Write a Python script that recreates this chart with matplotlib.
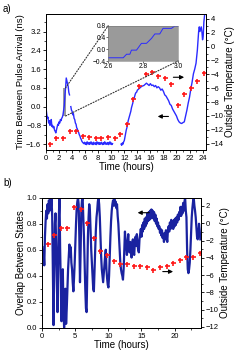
import numpy as np
import matplotlib
matplotlib.use("Agg")
import matplotlib.pyplot as plt
from matplotlib.patches import Rectangle, ConnectionPatch

plt.rcParams['font.family'] = ['Liberation Sans', 'DejaVu Sans']

# ---------- panel a data ----------
nan = np.nan
a_t = [0.0, 0.1, 0.2, 0.3, 0.4, 0.5, 0.6, 0.7, 0.8, 0.9, 1.0, 1.1, 1.2, 1.3, 1.4, 1.5,
       1.6, 1.7, 1.8, 1.9, 2.0, 2.1, 2.2, 2.3, 2.4, 2.5, 2.6, 2.7, 2.8, 2.9, 3.0, 3.1,
       3.2, 3.3, 3.4, 3.5, 3.6, 3.7,
       3.8, 3.9, 4.0, 4.1, 4.2, 4.3, 4.4, 4.5, 4.6, 4.7, 4.8, 4.9, 5.0, 5.1, 5.2, 5.3,
       5.4, 5.5, 5.6, 5.7, 5.8, 5.9, 6.0, 6.1, 6.2, 6.3, 6.4, 6.5, 6.6, 6.7, 6.8, 6.9,
       7.0, 7.1, 7.2, 7.3, 7.4, 7.5, 7.6, 7.7, 7.8, 7.9, 8.0, 8.1, 8.2, 8.3, 8.4, 8.5,
       8.6, 8.7, 8.8, 8.9, 9.0, 9.1, 9.2, 9.3, 9.4, 9.5, 9.6, 9.7, 9.8, 9.9, 10.0, 10.1,
       10.2, 10.3,
       11.5, 11.6, 11.7, 11.8, 11.9, 12.0, 12.1, 12.2, 12.3, 12.4, 12.5, 12.6, 12.7,
       12.8, 12.9, 13.0, 13.1, 13.2, 13.3, 13.4, 13.5, 13.6, 13.7, 13.8, 13.9, 14.0,
       14.2, 14.4, 14.6, 14.8, 15.0, 15.2, 15.4, 15.6, 15.8, 16.0, 16.2, 16.4, 16.6,
       16.8, 17.0, 17.2, 17.4, 17.6, 17.8, 18.0, 18.2, 18.4, 18.6, 18.8, 19.0, 19.2,
       19.4, 19.6, 19.8, 20.0, 20.2, 20.4, 20.6, 20.8, 21.0, 21.2, 21.4, 21.6, 21.8,
       22.0, 22.2, 22.4, 22.6, 22.8, 23.0, 23.2, 23.4, 23.5, 23.6, 23.8, 23.9, 24.0,
       24.1, 24.2, 24.35]
a_ns = [-0.05, -0.3, -0.5, -0.45, -0.7, -0.6, -0.8, -0.75, -0.55, -0.85, -0.8, -0.9,
        -0.85, -1.0, -1.05, -1.12, -1.0, -0.9, -0.75, -0.8, -0.65, -0.7, -0.55, -0.6,
        -0.5, -0.45, -0.35, -0.15, 0.05, 0.5, 0.8, 1.22, 1.1, 1.0, 0.85, 0.6, 0.5, nan,
        0.0, -0.15, -0.2, -0.35, -0.3, -0.5, -0.55, -0.7, -0.75, -0.9, -0.95, -1.05,
        -1.1, -1.2, -1.25, -1.35, -1.4, -1.48, -1.52, -1.55, -1.58, -1.52, -1.6, -1.55,
        -1.62, -1.5, -1.58, -1.6, -1.53, -1.61, -1.56, -1.5, -1.6, -1.55, -1.62, -1.52,
        -1.58, -1.6, -1.54, -1.62, -1.5, -1.57, -1.6, -1.53, -1.61, -1.55, -1.6, -1.52,
        -1.58, -1.62, -1.54, -1.6, -1.5, -1.58, -1.61, -1.55, -1.6, -1.53, -1.62, -1.57,
        -1.5, -1.6, -1.55, -1.62, -1.58, nan,
        -1.6, -1.65, -1.55, -1.6, -1.5, -1.45, -1.3, -1.15, -1.0, -0.9, -0.75, -0.6,
        -0.5, -0.4, -0.3, -0.2, -0.05, 0.05, 0.15, 0.3, 0.35, 0.45, 0.55, 0.6, 0.62,
        0.7, 0.75, 0.8, 0.85, 0.88, 0.9, 0.95, 1.0, 0.95, 0.9, 0.98, 0.9, 0.92, 0.85,
        0.9, 0.8, 0.85, 0.8, 0.7, 0.75, 0.65, 0.5, 0.45, 0.35, 0.25, 0.1, 0.05, -0.1,
        -0.2, -0.3, -0.4, -0.55, -0.65, -0.7, -0.72, -0.68, -0.65, -0.4, -0.15, 0.15,
        0.4, 0.75, 1.05, 1.4, 1.6, 1.85, 2.4, 3.2, 3.4, 3.2, 3.4, 3.2, 2.85, 3.0, 3.6,
        4.0]

a_temp_t = [0.6, 1.6, 2.6, 3.6, 4.6, 5.6, 6.6, 7.6, 8.5, 9.5, 10.5, 11.4, 12.4, 13.4,
            14.3, 15.3, 16.3, 17.2, 18.2, 19.2, 20.2, 21.2, 22.2, 23.2, 24.2]
a_temp = [-14.0, -13.2, -13.2, -12.2, -12.2, -12.9, -13.0, -13.2, -13.2, -13.0, -13.2,
          -12.6, -11.1, -7.6, -5.7, -3.9, -3.6, -4.2, -4.5, -5.4, -8.4, -6.8, -5.9,
          -4.95, -3.8]

inset_t = [2.6, 2.686, 2.705, 2.724, 2.733, 2.762, 2.79, 2.819, 2.848, 2.867, 2.895,
           2.914, 2.962, 2.981, 3.0]
inset_ns = [-0.29, -0.29, -0.17, -0.17, -0.03, -0.03, 0.2, 0.2, 0.37, 0.52, 0.52,
            0.71, 0.71, 0.79, 0.79]

# ---------- panel b data ----------
b_t = [round(0.1 * i, 1) for i in range(240)]
b_overlap = [
    0.62, 0.5, 0.58, 0.48, 0.7, 0.82, 0.9, 0.84, 0.95, 0.88,
    0.98, 0.9, 1.0, 0.93, 0.99, 0.85, 0.4, 0.02, 0.45, 0.8,
    0.88, 0.6, 0.35, 0.12, 0.5, 0.85, 1.0, 0.6, 0.3, 0.05,
    0.35, 0.45, 0.15, 0.0, 0.2, 0.3, 0.03, 0.15, 0.3, 0.45,
    0.55, 0.64, 0.55, 0.62, 0.5, 0.45, 0.35, 0.28, 0.38, 0.5,
    0.65, 0.8, 0.92, 0.97, 1.0, 0.95, 0.7, 0.35, 0.6, 0.9,
    0.98, 1.0, 0.85, 0.7, 0.5, 0.3, 0.15, 0.12, 0.4, 0.7,
    0.85, 0.95, 0.9, 0.75, 0.6, 0.5, 0.4, 0.3, 0.28, 0.45,
    0.6, 0.75, 0.85, 0.9, 0.97, 1.0, 0.95, 0.85, 0.7, 0.55,
    0.45, 0.4, 0.35, 0.42, 0.5, 0.55, 0.6, 0.45, 0.38, 0.33,
    0.31, 0.4, 0.55, 0.7, 0.82, 0.9, 0.95, 0.98, 0.94, 0.99,
    0.94, 0.97, 0.92, 0.95, 0.86, 0.8, 0.7, 0.6, 0.5, 0.45,
    0.42, 0.4, 0.37, 0.45, 0.6, 0.74, 0.66, 0.62, 0.56, 0.66,
    0.72, 0.6, 0.58, 0.66, 0.58, 0.54, 0.65, 0.68, 0.58, 0.56,
    0.66, 0.7, 0.63, 0.72, 0.64, 0.6, 0.58, 0.68, 0.72, 0.76,
    0.7, 0.79, 0.74, 0.81, 0.76, 0.84, 0.78, 0.85, 0.8, 0.88,
    0.82, 0.89, 0.83, 0.9, 0.84, 0.91, 0.85, 0.9, 0.84, 0.89,
    0.82, 0.87, 0.8, 0.84, 0.78, 0.81, 0.76, 0.78, 0.73, 0.76,
    0.71, 0.75, 0.69, 0.72, 0.66, 0.73, 0.68, 0.75, 0.7, 0.66,
    0.75, 0.78, 0.74, 0.81, 0.76, 0.83, 0.78, 0.8, 0.76, 0.83,
    0.78, 0.84, 0.79, 0.85, 0.81, 0.87, 0.83, 0.89, 0.86, 0.93,
    0.86, 0.93, 0.88, 0.96, 0.9, 0.97, 1.0, 0.9, 0.85, 0.6,
    0.45, 0.42, 0.45, 0.5, 0.6, 0.72, 0.85, 0.92, 0.97, 1.0,
    0.94, 0.9, 0.85, 0.78, 0.7, 0.68, 0.72, 0.8, 0.75, 0.68]

b_temp_t = [0.8, 1.8, 2.8, 3.8, 4.8, 5.8, 6.8, 7.8, 8.8, 9.8, 10.8, 11.8, 12.8, 13.8,
            14.8, 15.8, 16.8, 17.8, 18.8, 19.8, 20.8, 21.8, 22.8, 23.8]
b_temp = [-2.35, -1.4, -0.5, -0.6, 1.85, 1.7, 0.07, -1.7, -3.25, -3.7, -4.4, -4.75,
          -4.7, -4.97, -4.97, -5.1, -5.4, -5.05, -5.0, -4.55, -4.3, -3.9, -3.9, -3.4]

blue_a = '#2b2bff'
blue_b = '#1a22a0'
red = '#ff1a1a'
gray = '#9a9a9a'
fs_tick = 5.5
fs_lab = 7


def style(ax):
    ax.tick_params(which='major', direction='out', length=2.5, width=0.6,
                   labelsize=fs_tick, pad=1)
    ax.tick_params(which='minor', direction='out', length=1.5, width=0.5)
    for s in ax.spines.values():
        s.set_linewidth(0.7)


fig = plt.figure(figsize=(2.41, 3.58), dpi=100)

# ---------- panel a ----------
ax1 = fig.add_axes([0.191, 0.581, 0.663, 0.380])
ax1.plot(a_t, a_ns, color=blue_a, lw=1.0, zorder=3)
ax1.add_patch(Rectangle((2.6, -0.4), 0.4, 1.2, facecolor=gray, edgecolor='none', zorder=2))
ax1.set_xlim(0, 24.5)
ax1.set_ylim(-1.85, 3.95)
ax1.set_xticks(np.arange(0, 25, 2))
ax1.set_xticks(np.arange(1, 25, 2), minor=True)
ax1.set_yticks([-1.6, -0.8, 0.0, 0.8, 1.6, 2.4, 3.2])
ax1.set_yticks(np.arange(-1.2, 3.7, 0.8), minor=True)
ax1.set_xlabel('Time (hours)', fontsize=fs_lab, labelpad=0)
ax1.set_ylabel('Time Between Pulse Arrival (ns)', fontsize=6.8, labelpad=1)
style(ax1)
ax1.annotate('', xy=(16.7, -0.42), xytext=(19.2, -0.42),
             arrowprops=dict(arrowstyle='-|>', color='k', lw=0.8, mutation_scale=6))

ax1r = ax1.twinx()
ax1r.plot(a_temp_t, a_temp, '+', color=red, ms=3.6, mew=1.2)
ax1r.set_ylim(-14.9, 4.7)
ax1r.set_yticks(np.arange(-14, 5, 2))
ax1r.set_yticks(np.arange(-13, 5, 2), minor=True)
ax1r.set_ylabel('Outside Temperature (\u00b0C)', fontsize=fs_lab, labelpad=1)
style(ax1r)
ax1r.annotate('', xy=(21.6, -4.42), xytext=(19.1, -4.42),
              arrowprops=dict(arrowstyle='-|>', color='k', lw=0.8, mutation_scale=6))

# inset
axi = fig.add_axes([0.449, 0.8296, 0.29, 0.0986])
axi.set_facecolor(gray)
axi.plot(inset_t, inset_ns, color=blue_a, lw=0.7)
axi.set_xlim(2.6, 3.0)
axi.set_ylim(-0.4, 0.8)
axi.set_xticks([2.6, 2.8, 3.0])
axi.set_yticks([-0.4, 0.0, 0.4, 0.8])
axi.tick_params(labelsize=4.8, length=1.2, width=0.4, pad=0.5)
for s in axi.spines.values():
    s.set_linewidth(0.4)
    s.set_color('#777777')

for xyA, xyB in [((3.0, 0.8), (0, 1)), ((3.0, -0.4), (1, 0))]:
    con = ConnectionPatch(xyA=xyA, coordsA=ax1.transData, xyB=xyB,
                          coordsB=axi.transAxes, ls=(0, (1, 1.5)), lw=0.8,
                          color='#333333')
    fig.add_artist(con)

fig.text(0.01, 0.975, 'a)', fontsize=7, va='center')

# ---------- panel b ----------
ax2 = fig.add_axes([0.1755, 0.0846, 0.6585, 0.363])
ax2.plot(b_t, b_overlap, color=blue_b, lw=1.6)
ax2.set_xlim(0, 24)
ax2.set_ylim(0, 1.0)
ax2.set_xticks([0, 5, 10, 15, 20])
ax2.set_xticks([2.5, 7.5, 12.5, 17.5, 22.5], minor=True)
ax2.set_yticks([0.0, 0.2, 0.4, 0.6, 0.8, 1.0])
ax2.set_yticks([0.1, 0.3, 0.5, 0.7, 0.9], minor=True)
ax2.set_xlabel('Time (hours)', fontsize=fs_lab, labelpad=0)
ax2.set_ylabel('Overlap Between States', fontsize=fs_lab, labelpad=1)
style(ax2)
ax2.annotate('', xy=(14.0, 0.885), xytext=(16.6, 0.885),
             arrowprops=dict(arrowstyle='-|>', color='k', lw=0.8, mutation_scale=6))

ax2r = ax2.twinx()
ax2r.plot(b_temp_t, b_temp, '+', color=red, ms=3.6, mew=1.2)
ax2r.set_ylim(-12.1, 2.95)
ax2r.set_yticks(np.arange(-12, 3, 2))
ax2r.set_yticks(np.arange(-11, 3, 2), minor=True)
ax2r.set_ylabel('Outside Temperature (\u00b0C)', fontsize=fs_lab, labelpad=1)
style(ax2r)
ax2r.annotate('', xy=(20.2, -5.6), xytext=(17.8, -5.6),
              arrowprops=dict(arrowstyle='-|>', color='k', lw=0.8, mutation_scale=6))

fig.text(0.015, 0.49, 'b)', fontsize=7, va='center')

fig.savefig('out.png', dpi=100)
